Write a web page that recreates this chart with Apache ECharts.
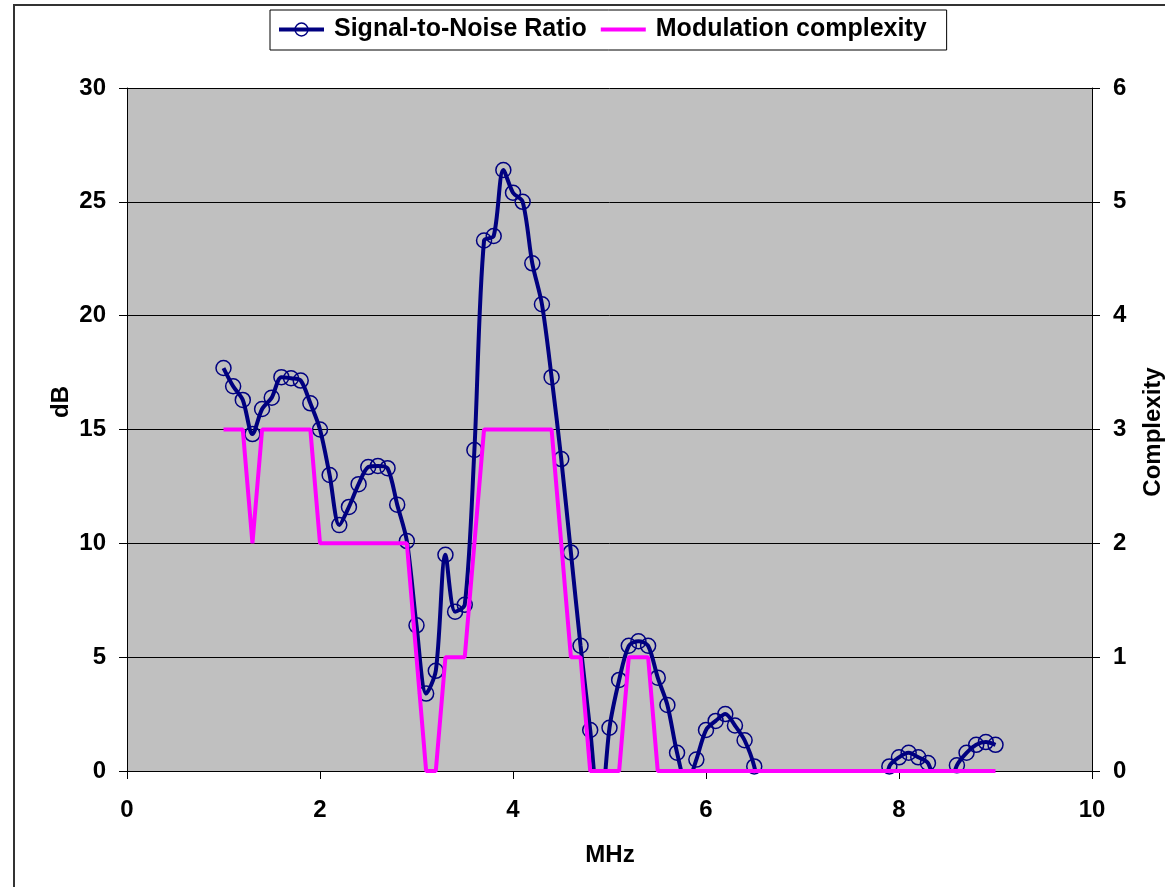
<!DOCTYPE html>
<html>
<head>
<meta charset="utf-8">
<script src="https://cdn.jsdelivr.net/npm/echarts@6/dist/echarts.min.js"></script>
<style>
  html, body { margin: 0; padding: 0; background: #fff; }
  #chart { width: 1165px; height: 887px; }
</style>
</head>
<body>
<div id="chart"></div>
<script>
// Frequency (MHz)
const mhz = [
  1.0, 1.1, 1.2, 1.3, 1.4, 1.5, 1.6, 1.7, 1.8, 1.9,
  2.0, 2.1, 2.2, 2.3, 2.4, 2.5, 2.6, 2.7, 2.8, 2.9,
  3.0, 3.1, 3.2, 3.3, 3.4, 3.5, 3.6, 3.7, 3.8, 3.9,
  4.0, 4.1, 4.2, 4.3, 4.4, 4.5, 4.6, 4.7, 4.8, 4.9,
  5.0, 5.1, 5.2, 5.3, 5.4, 5.5, 5.6, 5.7, 5.8, 5.9,
  6.0, 6.1, 6.2, 6.3, 6.4, 6.5, 6.6, 6.7, 6.8, 6.9,
  7.0, 7.1, 7.2, 7.3, 7.4, 7.5, 7.6, 7.7, 7.8, 7.9,
  8.0, 8.1, 8.2, 8.3, 8.4, 8.5, 8.6, 8.7, 8.8, 8.9,
  9.0
];
// Signal-to-Noise Ratio (dB)
const snr = [
  17.7, 16.9, 16.3, 14.8, 15.9, 16.4, 17.3, 17.25, 17.15, 16.15,
  15.0, 13.0, 10.8, 11.6, 12.6, 13.35, 13.4, 13.3, 11.7, 10.1,
  6.4, 3.4, 4.4, 9.5, 7.0, 7.3, 14.1, 23.3, 23.5, 26.4,
  25.4, 25.0, 22.3, 20.5, 17.3, 13.7, 9.6, 5.5, 1.8, -2.2,
  1.9, 4.0, 5.5, 5.7, 5.5, 4.1, 2.9, 0.8, -0.6, 0.5,
  1.8, 2.2, 2.5, 2.0, 1.35, 0.2, -2.0, -3.5, -4.5, -5.2,
  -5.5, -5.3, -5.0, -4.8, -4.6, -4.3, -3.8, -3.0, -1.8, 0.2,
  0.6, 0.8, 0.6, 0.35, -0.8, -0.9, 0.25, 0.8, 1.15, 1.27,
  1.15
];
// Modulation complexity
const complexity = [
  3, 3, 3, 2, 3, 3, 3, 3, 3, 3,
  2, 2, 2, 2, 2, 2, 2, 2, 2, 2,
  1, 0, 0, 1, 1, 1, 2, 3, 3, 3,
  3, 3, 3, 3, 3, 2, 1, 1, 0, 0,
  0, 0, 1, 1, 1, 0, 0, 0, 0, 0,
  0, 0, 0, 0, 0, 0, 0, 0, 0, 0,
  0, 0, 0, 0, 0, 0, 0, 0, 0, 0,
  0, 0, 0, 0, 0, 0, 0, 0, 0, 0,
  0
];
const seriesNames = ['Signal-to-Noise Ratio', 'Modulation complexity'];
const axisTitles = { x: 'MHz', yLeft: 'dB', yRight: 'Complexity' };

const FONT = "'Liberation Sans', Arial, sans-serif";
const labelStyle = { color: '#000', fontSize: 24, fontWeight: 'bold', fontFamily: FONT };
const titleFont = "bold 24px 'Liberation Sans', Arial, sans-serif";

const chart = echarts.init(document.getElementById('chart'), null, { renderer: 'canvas' });
chart.setOption({
  animation: false,
  backgroundColor: '#fff',
  graphic: [
    { type: 'rect', silent: true, z: -10,
      shape: { x: 14, y: 5, width: 1400, height: 1100 },
      style: { fill: 'none', stroke: '#333', lineWidth: 2 } },
    { type: 'text', x: 61, y: 402, rotation: Math.PI / 2,
      style: { text: axisTitles.yLeft, fill: '#000', font: titleFont, textAlign: 'center', textVerticalAlign: 'middle' } },
    { type: 'text', x: 1153, y: 432, rotation: Math.PI / 2,
      style: { text: axisTitles.yRight, fill: '#000', font: titleFont, textAlign: 'center', textVerticalAlign: 'middle' } },
    { type: 'text', x: 610, y: 855,
      style: { text: axisTitles.x, fill: '#000', font: titleFont, textAlign: 'center', textVerticalAlign: 'middle' } }
  ],
  legend: {
    data: [
      { name: seriesNames[0],
        lineStyle: { color: '#000080', width: 4 },
        itemStyle: { color: 'rgba(255,255,255,0)', borderColor: '#000080', borderWidth: 1.5 } },
      { name: seriesNames[1],
        lineStyle: { color: '#FF00FF', width: 4 },
        itemStyle: { color: 'rgba(0,0,0,0)', borderColor: 'rgba(0,0,0,0)', borderWidth: 0 } }
    ],
    left: 270,
    top: 10,
    padding: [7, 20, 8, 7],
    itemGap: 12,
    itemWidth: 45,
    itemHeight: 16,
    borderColor: '#000',
    borderWidth: 1,
    backgroundColor: '#fff',
    selectedMode: false,
    textStyle: Object.assign({}, labelStyle, { fontSize: 25, padding: [0, 4, 0, 5] })
  },
  grid: {
    left: 127, top: 88, right: 73, bottom: 116,
    show: true, backgroundColor: '#C0C0C0', borderWidth: 0
  },
  xAxis: {
    type: 'value', min: 0, max: 10, interval: 2,
    axisLine: { show: true, onZero: false, lineStyle: { color: '#000', width: 1 } },
    axisTick: { show: true, inside: false, length: 8, lineStyle: { color: '#000' } },
    axisLabel: Object.assign({ margin: 27 }, labelStyle),
    splitLine: { show: false }
  },
  yAxis: [
    {
      type: 'value', min: 0, max: 30, interval: 5, position: 'left',
      axisLine: { show: true, lineStyle: { color: '#000', width: 1 } },
      axisTick: { show: true, inside: false, length: 8, lineStyle: { color: '#000' } },
      axisLabel: Object.assign({ margin: 21 }, labelStyle),
      splitLine: { show: true, lineStyle: { color: '#000', width: 1 } }
    },
    {
      type: 'value', min: 0, max: 6, interval: 1, position: 'right',
      axisLine: { show: true, lineStyle: { color: '#000', width: 1 } },
      axisTick: { show: true, inside: false, length: 8, lineStyle: { color: '#000' } },
      axisLabel: Object.assign({ margin: 21 }, labelStyle),
      splitLine: { show: false }
    }
  ],
  series: [
    {
      name: seriesNames[0],
      type: 'line',
      yAxisIndex: 0,
      data: mhz.map((x, i) => [x, snr[i]]),
      smooth: 0.3,
      clip: true,
      showAllSymbol: true,
      symbol: 'circle',
      symbolSize: 15,
      lineStyle: { color: '#000080', width: 4 },
      itemStyle: { color: 'rgba(0,0,0,0)', borderColor: '#000080', borderWidth: 1.5 },
      z: 2
    },
    {
      name: seriesNames[1],
      type: 'line',
      yAxisIndex: 1,
      data: mhz.map((x, i) => [x, complexity[i]]),
      smooth: false,
      clip: true,
      symbol: 'none',
      lineStyle: { color: '#FF00FF', width: 4 },
      itemStyle: { color: '#FF00FF' },
      z: 3
    }
  ]
});
</script>
</body>
</html>
